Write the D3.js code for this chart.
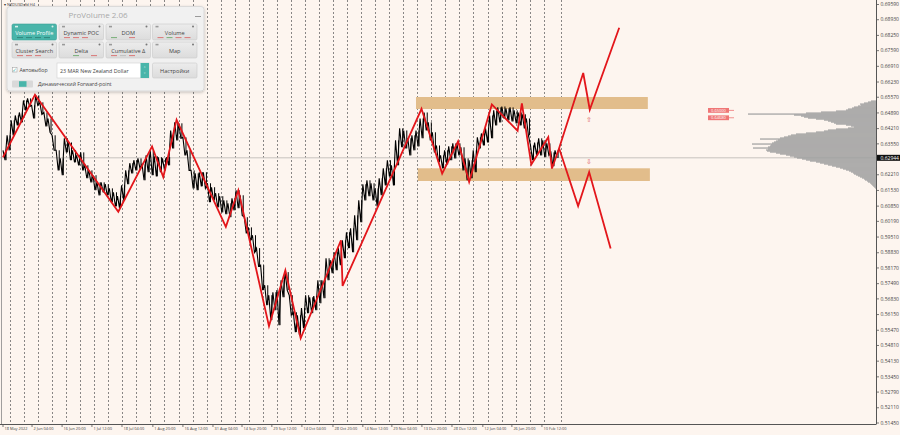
<!DOCTYPE html>
<html>
<head>
<meta charset="utf-8">
<script src="https://cdn.jsdelivr.net/npm/d3@7/dist/d3.min.js"></script>
<style>
  body { margin: 0; background: #fdf5ef; }
  svg { display: block; font-family: "Open Sans", "DejaVu Sans", sans-serif; }
</style>
</head>
<body>
<div id="chart"></div>
<script>
// ---- Daten ----

var symbolTitle = 'NZDUSDrfd,H4';
var currentPrice = 0.62944;

// Preisachse
var priceTicks = [0.69590, 0.68930, 0.68250, 0.67590, 0.66910, 0.66230, 0.65570, 0.64890,
    0.64210, 0.63550, 0.62210, 0.61530, 0.60850, 0.60190, 0.59510, 0.58830, 0.58170,
    0.57490, 0.56830, 0.56150, 0.55470, 0.54810, 0.54130, 0.53450, 0.52790, 0.52110, 0.51450];

// Zeitachse (Tage seit 18 May 2022, Chart-Index)
var timeTicks = [0, 14.2, 28.9, 43.5, 58.2, 73.3, 88.0, 102.7, 116.9, 131.5,
    146.2, 161.4, 176.0, 190.2, 204.9, 219.6, 234.7, 248.9, 263.6];
var timeLabels = ['18 May 2022', '2 Jun 04:00', '16 Jun 20:00', '1 Jul 12:00', '18 Jul 04:00',
    '1 Aug 20:00', '16 Aug 12:00', '31 Aug 04:00', '14 Sep 20:00', '29 Sep 12:00',
    '14 Oct 04:00', '28 Oct 20:00', '14 Nov 12:00', '29 Nov 04:00', '13 Dec 20:00',
    '28 Dec 12:00', '12 Jan 04:00', '26 Jan 20:00', '10 Feb 12:00'];

// Wochentrenner
var sepFirst = 3.42;
var sepStep = 6.87;
var sepLast = 272.7;

// Kurs: Hoch / Tief je 2 Tage
var barStep = 2;
var barHigh = [0.6327, 0.6392, 0.6457, 0.6478, 0.6491, 0.6543, 0.6552, 0.6522, 0.6565, 0.6535,
    0.6491, 0.6465, 0.6392, 0.6327, 0.6292, 0.6379, 0.6361, 0.6327, 0.6305, 0.6318,
    0.6262, 0.6240, 0.6219, 0.6188, 0.6188, 0.6180, 0.6162, 0.6145, 0.6128, 0.6175,
    0.6240, 0.6271, 0.6284, 0.6292, 0.6266, 0.6305, 0.6327, 0.6301, 0.6297, 0.6292,
    0.6297, 0.6413, 0.6448, 0.6444, 0.6383, 0.6327, 0.6240, 0.6227, 0.6232, 0.6232,
    0.6184, 0.6167, 0.6141, 0.6128, 0.6110, 0.6097, 0.6119, 0.6154, 0.6132, 0.6037,
    0.5993, 0.5959, 0.5903, 0.5829, 0.5742, 0.5699, 0.5712, 0.5721, 0.5764, 0.5799,
    0.5699, 0.5625, 0.5612, 0.5643, 0.5699, 0.5690, 0.5695, 0.5764, 0.5764, 0.5859,
    0.5851, 0.5885, 0.5903, 0.5937, 0.5972, 0.5989, 0.6045, 0.6110, 0.6180, 0.6197,
    0.6184, 0.6162, 0.6206, 0.6249, 0.6284, 0.6262, 0.6370, 0.6422, 0.6413, 0.6379,
    0.6392, 0.6413, 0.6465, 0.6491, 0.6448, 0.6405, 0.6348, 0.6305, 0.6327, 0.6344,
    0.6357, 0.6357, 0.6340, 0.6292, 0.6284, 0.6327, 0.6383, 0.6400, 0.6422, 0.6478,
    0.6500, 0.6513, 0.6517, 0.6509, 0.6513, 0.6500, 0.6491, 0.6483, 0.6465, 0.6348,
    0.6361, 0.6379, 0.6370, 0.6357, 0.6318, 0.6327];
var barLow = [0.6284, 0.6327, 0.6392, 0.6435, 0.6448, 0.6500, 0.6517, 0.6465, 0.6522, 0.6483,
    0.6431, 0.6405, 0.6327, 0.6240, 0.6219, 0.6318, 0.6284, 0.6275, 0.6262, 0.6240,
    0.6206, 0.6188, 0.6154, 0.6132, 0.6145, 0.6132, 0.6102, 0.6084, 0.6076, 0.6110,
    0.6180, 0.6227, 0.6240, 0.6249, 0.6197, 0.6232, 0.6219, 0.6214, 0.6232, 0.6240,
    0.6262, 0.6335, 0.6370, 0.6379, 0.6305, 0.6240, 0.6162, 0.6154, 0.6171, 0.6162,
    0.6102, 0.6110, 0.6080, 0.6058, 0.6050, 0.6037, 0.6067, 0.6076, 0.6045, 0.5967,
    0.5937, 0.5885, 0.5825, 0.5721, 0.5656, 0.5591, 0.5634, 0.5569, 0.5690, 0.5721,
    0.5612, 0.5539, 0.5526, 0.5556, 0.5621, 0.5621, 0.5634, 0.5664, 0.5686, 0.5764,
    0.5794, 0.5807, 0.5829, 0.5859, 0.5903, 0.5885, 0.5937, 0.6015, 0.6110, 0.6128,
    0.6110, 0.6084, 0.6132, 0.6175, 0.6214, 0.6175, 0.6262, 0.6340, 0.6335, 0.6305,
    0.6327, 0.6344, 0.6379, 0.6413, 0.6370, 0.6318, 0.6275, 0.6249, 0.6266, 0.6284,
    0.6292, 0.6305, 0.6240, 0.6197, 0.6206, 0.6232, 0.6335, 0.6348, 0.6361, 0.6379,
    0.6435, 0.6448, 0.6465, 0.6457, 0.6452, 0.6444, 0.6435, 0.6422, 0.6392, 0.6284,
    0.6305, 0.6305, 0.6297, 0.6305, 0.6258, 0.6294];

// ZigZag (Tag, Preis)
var zigzag = [[0, 0.6297], [15.65, 0.6568], [56.4, 0.6061], [72.9, 0.6344], [78.4, 0.6211],
    [84.9, 0.6459], [109.0, 0.5995], [115.1, 0.6154], [130.1, 0.5565], [138.1, 0.5807],
    [145.6, 0.5512], [165.3, 0.5937], [166.1, 0.5739], [204.7, 0.6507], [214.8, 0.6226],
    [222.6, 0.6366], [228.0, 0.6190], [239.1, 0.6526], [251.7, 0.6411], [253.8, 0.6530],
    [258.4, 0.6266], [266.7, 0.6384], [268.5, 0.6248], [272.0, 0.6336]];

// Prognose-Pfade
var forecastUp = [[272.0, 0.6336], [283.8, 0.6662], [287.0, 0.6503], [301.4, 0.6858]];
var forecastDown = [[272.0, 0.6336], [281.3, 0.6085], [286.7, 0.6233], [297.2, 0.5901]];

// Zonen
var zoneFrom = [202.0, 202.9];
var zoneTo = [315.4, 316.4];
var zoneTop = [0.6558, 0.6249];
var zoneBottom = [0.6506, 0.6194];

// Pfeile
var arrowDay = 286.6;
var arrowUpPrice = 0.6460;
var arrowDownPrice = 0.6278;

// Preis-Marken links vom Profil
var levelPrices = [0.6500, 0.6468];
var levelTexts = ['0.65000', '0.64680'];

// Volumenprofil
var profileTop = 0.6543;
var profileStep = 0.000433;
var profileVolume = [5, 8, 12, 16, 15, 18, 22, 24, 28, 30, 40, 55, 70, 128, 82, 75, 72, 68, 60, 52,
    48, 45, 42, 40, 30, 25, 22, 28, 40, 48, 52, 60, 70, 80, 85, 88, 92, 96, 116, 98,
    100, 102, 104, 124, 105, 106, 108, 123, 108, 110, 109, 106, 100, 96, 90, 86, 82, 79, 74, 70,
    66, 60, 56, 52, 48, 44, 40, 36, 33, 30, 27, 25, 23, 22, 20, 18, 16, 14, 12, 11,
    9, 8, 6, 5, 4, 3, 2, 1];

// Panel-Schaltflächen
var buttonLabels = ['Volume Profile', 'Dynamic POC', 'DOM', 'Volume',
    'Cluster Search', 'Delta', 'Cumulative \u0394', 'Map'];

// ---- Layout ----
var width = 900;
var height = 435;
var plotRight = 876;
var plotBottom = 424;

var red = '#e3161b';
var zoneColor = '#e2bd8b';
var teal = '#49b5aa';

var x = d3.scaleLinear().domain([0, 427]).range([3, plotRight]);
var y = d3.scaleLinear().domain([0.51450, 0.69590]).range([423, 4.5]);
var volX = d3.scaleLinear().domain([0, 130]).range([0, 130]);

var svg = d3.select('#chart').append('svg')
    .attr('width', width)
    .attr('height', height);

svg.append('rect').attr('width', width).attr('height', height).attr('fill', '#fdf5ef');

var defs = svg.append('defs');
defs.append('clipPath').attr('id', 'plotClip')
    .append('rect').attr('x', 0).attr('y', 0).attr('width', plotRight).attr('height', plotBottom);

var shadow = defs.append('filter').attr('id', 'shadow')
    .attr('x', '-10%').attr('y', '-10%').attr('width', '120%').attr('height', '130%');
shadow.append('feDropShadow').attr('dx', 0).attr('dy', 1).attr('stdDeviation', 1.5)
    .attr('flood-color', '#000').attr('flood-opacity', 0.25);

var btnGrad = defs.append('linearGradient').attr('id', 'btnGrad')
    .attr('x1', 0).attr('y1', 0).attr('x2', 0).attr('y2', 1);
btnGrad.append('stop').attr('offset', '0%').attr('stop-color', '#ececec');
btnGrad.append('stop').attr('offset', '100%').attr('stop-color', '#dcdcdc');

var plot = svg.append('g').attr('clip-path', 'url(#plotClip)');

// Wochentrenner (gestrichelt)
var seps = d3.range(sepFirst, sepLast - 3, sepStep).concat([sepLast]);
plot.selectAll('.sep').data(seps).enter().append('line')
    .attr('class', 'sep')
    .attr('x1', function (d) { return Math.round(x(d)) + 0.5; })
    .attr('x2', function (d) { return Math.round(x(d)) + 0.5; })
    .attr('y1', 0).attr('y2', plotBottom)
    .attr('stroke', '#6a6a6a').attr('stroke-width', 0.8)
    .attr('stroke-dasharray', '2,2');

// aktuelle Preislinie
plot.append('line')
    .attr('x1', 0).attr('x2', plotRight)
    .attr('y1', y(currentPrice)).attr('y2', y(currentPrice))
    .attr('stroke', '#c6c2be').attr('stroke-width', 1);

// Volumenprofil
plot.selectAll('.vol').data(profileVolume).enter().append('rect')
    .attr('class', 'vol')
    .attr('x', function (d) { return plotRight - volX(d); })
    .attr('y', function (d, i) { return y(profileTop - i * profileStep); })
    .attr('width', function (d) { return volX(d); })
    .attr('height', 1.2)
    .attr('fill', '#9f9f9f');

// Zonen
plot.selectAll('.zone').data(zoneFrom).enter().append('rect')
    .attr('class', 'zone')
    .attr('x', function (d) { return x(d); })
    .attr('y', function (d, i) { return y(zoneTop[i]); })
    .attr('width', function (d, i) { return x(zoneTo[i]) - x(d); })
    .attr('height', function (d, i) { return y(zoneBottom[i]) - y(zoneTop[i]); })
    .attr('fill', zoneColor);

// Kurs (Hoch/Tief abwechselnd) + Balken
var pricePts = [];
barHigh.forEach(function (h, i) {
    pricePts.push([i * barStep, h]);
    pricePts.push([i * barStep + barStep / 2, barLow[i]]);
});
var line = d3.line()
    .x(function (d) { return x(d[0]); })
    .y(function (d) { return y(d[1]); });

plot.selectAll('.bar').data(barHigh).enter().append('line')
    .attr('class', 'bar')
    .attr('x1', function (d, i) { return x(i * barStep + barStep * 0.75); })
    .attr('x2', function (d, i) { return x(i * barStep + barStep * 0.75); })
    .attr('y1', function (d) { return y(d); })
    .attr('y2', function (d, i) { return y(barLow[i]); })
    .attr('stroke', '#000')
    .attr('stroke-width', 1);

plot.append('path')
    .attr('d', line(pricePts))
    .attr('fill', 'none')
    .attr('stroke', '#000')
    .attr('stroke-width', 1.1);

// ZigZag und Prognosen
[zigzag, forecastUp, forecastDown].forEach(function (pts) {
    plot.append('path')
        .attr('d', line(pts))
        .attr('fill', 'none')
        .attr('stroke', red)
        .attr('stroke-width', 1.8)
        .attr('stroke-linejoin', 'miter');
});

// Pfeile
plot.append('text').attr('x', x(arrowDay)).attr('y', y(arrowUpPrice) + 2.5)
    .attr('text-anchor', 'middle').attr('font-size', 7).attr('fill', '#e06060')
    .text('\u21e7');
plot.append('text').attr('x', x(arrowDay)).attr('y', y(arrowDownPrice) + 2.5)
    .attr('text-anchor', 'middle').attr('font-size', 7).attr('fill', '#e06060')
    .text('\u21e9');

// Preis-Marken
levelPrices.forEach(function (p, i) {
    var yy = y(p);
    plot.append('rect').attr('x', 708).attr('y', yy - 2.4).attr('width', 21).attr('height', 4.8)
        .attr('fill', '#ef7676');
    plot.append('line').attr('x1', 729).attr('x2', 734).attr('y1', yy).attr('y2', yy)
        .attr('stroke', '#ef7676').attr('stroke-width', 0.8);
    plot.append('text').attr('x', 718.5).attr('y', yy + 1.5)
        .attr('text-anchor', 'middle').attr('font-size', 4).attr('fill', '#fff')
        .text(levelTexts[i]);
});

// Rahmen / Achsen
svg.append('line').attr('x1', plotRight + 0.5).attr('x2', plotRight + 0.5)
    .attr('y1', 0).attr('y2', plotBottom).attr('stroke', '#555').attr('stroke-width', 1);
svg.append('line').attr('x1', 0).attr('x2', plotRight + 0.5)
    .attr('y1', plotBottom + 0.5).attr('y2', plotBottom + 0.5).attr('stroke', '#555').attr('stroke-width', 1);
svg.append('line').attr('x1', 1.5).attr('x2', 1.5)
    .attr('y1', 0).attr('y2', plotBottom).attr('stroke', '#888').attr('stroke-width', 0.8);

// Preisachse
var yTick = svg.selectAll('.ytick').data(priceTicks).enter().append('g')
    .attr('class', 'ytick')
    .attr('transform', function (d) { return 'translate(' + plotRight + ',' + y(d) + ')'; });
yTick.append('line').attr('x1', 0).attr('x2', 3).attr('stroke', '#555').attr('stroke-width', 0.8);
yTick.append('text').attr('x', 4.5).attr('y', 1.7)
    .attr('font-size', 5).attr('fill', '#444')
    .text(function (d) { return d.toFixed(5); });

// aktueller Preis
svg.append('rect').attr('x', plotRight + 1).attr('y', y(currentPrice) - 3)
    .attr('width', 23).attr('height', 6).attr('fill', '#111');
svg.append('text').attr('x', plotRight + 4.5).attr('y', y(currentPrice) + 1.8)
    .attr('font-size', 5).attr('fill', '#fff').text(currentPrice.toFixed(5));

// Zeitachse
var xTick = svg.selectAll('.xtick').data(timeTicks).enter().append('g')
    .attr('class', 'xtick')
    .attr('transform', function (d) { return 'translate(' + x(d) + ',' + plotBottom + ')'; });
xTick.append('line').attr('y1', 0).attr('y2', 3).attr('stroke', '#555').attr('stroke-width', 0.8);
xTick.append('text').attr('x', 1.5).attr('y', 5.5)
    .attr('font-size', 3.9).attr('fill', '#444')
    .text(function (d, i) { return timeLabels[i]; });

// Titel oben links
svg.append('text').attr('x', 4).attr('y', 5.5).attr('font-size', 4).attr('fill', '#333')
    .text('\u25be ' + symbolTitle);

// ---- ProVolume Panel ----
var panel = svg.append('g');
panel.append('rect').attr('x', 7).attr('y', 6.5).attr('width', 197).attr('height', 84.5)
    .attr('rx', 3).attr('fill', '#f1f1f1').attr('stroke', '#d4d4d4').attr('stroke-width', 0.8)
    .attr('filter', 'url(#shadow)');
panel.append('text').attr('x', 98).attr('y', 17.5).attr('text-anchor', 'middle')
    .attr('font-size', 8).attr('fill', '#a9a9a9').text('ProVolume 2.06');
panel.append('line').attr('x1', 195).attr('x2', 201).attr('y1', 16.5).attr('y2', 16.5)
    .attr('stroke', '#9a9a9a').attr('stroke-width', 1);

var colX = [12, 59, 106, 152.5];
var rowY = [24, 42];
var btn = panel.selectAll('.btn').data(buttonLabels).enter().append('g')
    .attr('class', 'btn')
    .attr('transform', function (d, i) { return 'translate(' + colX[i % 4] + ',' + rowY[Math.floor(i / 4)] + ')'; });
btn.append('rect').attr('width', 44.5).attr('height', 16).attr('rx', 1.5)
    .attr('fill', function (d, i) { return i === 0 ? teal : 'url(#btnGrad)'; })
    .attr('stroke', function (d, i) { return i === 0 ? '#3a9f95' : '#cacaca'; })
    .attr('stroke-width', 0.6);
btn.append('text').attr('x', 22.25).attr('y', 10.5).attr('text-anchor', 'middle')
    .attr('font-size', 5.6)
    .attr('fill', function (d, i) { return i === 0 ? '#fff' : '#444'; })
    .text(function (d) { return d; });
// kleine Symbole oben
btn.append('rect').attr('x', 3).attr('y', 1.8).attr('width', 3).attr('height', 1.6)
    .attr('fill', function (d, i) { return i === 0 ? '#d7f0ec' : '#9a9a9a'; });
btn.append('circle').attr('cx', 40.5).attr('cy', 2.6).attr('r', 1)
    .attr('fill', function (d, i) { return i === 0 ? '#d7f0ec' : '#777'; });
// kleine Markierungen unten
var marks = [['#2f7f78', '#2f7f78', '#2f7f78', '#2f7f78'], ['#d86a6a', '#d86a6a', '#d86a6a', null],
    ['#6aa86a', null, '#d86a6a', null], ['#d86a6a', '#6aa86a', '#d86a6a', '#d86a6a'],
    ['#d86a6a', '#d86a6a', '#d86a6a', null], [null, '#6aa86a', null, '#d86a6a'],
    ['#d86a6a', '#bbbbbb', '#d86a6a', null], [null, null, null, null]];
btn.each(function (d, i) {
    var g = d3.select(this);
    marks[i].forEach(function (c, j) {
        if (!c) return;
        g.append('rect').attr('x', 5 + j * 9).attr('y', 13.2).attr('width', 6).attr('height', 0.9)
            .attr('fill', c);
    });
});

// Zeile 3
panel.append('rect').attr('x', 12.5).attr('y', 67.5).attr('width', 4.5).attr('height', 4.5)
    .attr('fill', '#fff').attr('stroke', '#999').attr('stroke-width', 0.5);
panel.append('text').attr('x', 12.3).attr('y', 71.5).attr('font-size', 5.5).attr('fill', teal).text('\u2713');
panel.append('text').attr('x', 19.5).attr('y', 72).attr('font-size', 5.2).attr('fill', '#444').text('Автовыбор');
panel.append('rect').attr('x', 57).attr('y', 63).attr('width', 92).attr('height', 15)
    .attr('fill', '#fff').attr('stroke', '#d0d0d0').attr('stroke-width', 0.6);
panel.append('text').attr('x', 60).attr('y', 72.5).attr('font-size', 5.3).attr('fill', '#444')
    .text('23 MAR New Zealand Dollar');
panel.append('rect').attr('x', 140.5).attr('y', 63).attr('width', 8.5).attr('height', 15).attr('fill', teal);
panel.append('text').attr('x', 144.7).attr('y', 69.5).attr('text-anchor', 'middle').attr('font-size', 4.5).attr('fill', '#fff').text('\u02c4');
panel.append('text').attr('x', 144.7).attr('y', 75.5).attr('text-anchor', 'middle').attr('font-size', 4.5).attr('fill', '#fff').text('\u02c5');
panel.append('rect').attr('x', 152.5).attr('y', 63).attr('width', 44.5).attr('height', 15).attr('rx', 1.5)
    .attr('fill', 'url(#btnGrad)').attr('stroke', '#cacaca').attr('stroke-width', 0.6);
panel.append('text').attr('x', 174.75).attr('y', 72.5).attr('text-anchor', 'middle')
    .attr('font-size', 5.6).attr('fill', '#444').text('Настройки');

// Zeile 4
panel.append('rect').attr('x', 12).attr('y', 80.5).attr('width', 21).attr('height', 7).attr('rx', 1)
    .attr('fill', '#d9d9d9');
panel.append('rect').attr('x', 19).attr('y', 81.2).attr('width', 7.5).attr('height', 5.6)
    .attr('fill', teal);
panel.append('text').attr('x', 38).attr('y', 86).attr('font-size', 5.2).attr('fill', '#444')
    .text('Динамический Forward-point');
</script>
</body>
</html>
